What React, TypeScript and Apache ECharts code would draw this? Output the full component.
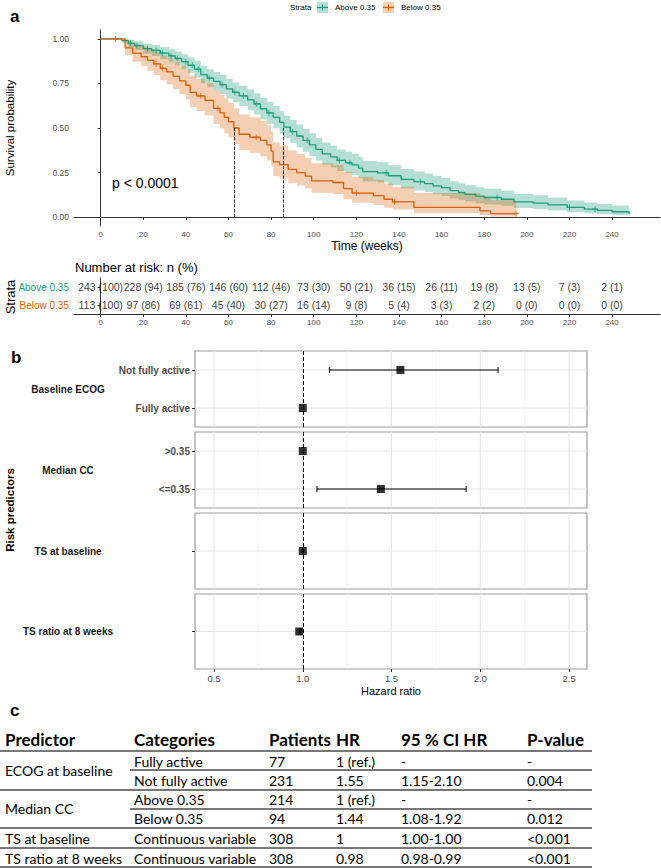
import React, { useEffect, useRef } from "react";
import * as echarts from "echarts";

const GREEN = "#1b9e77";
const ORANGE = "#d95f02";
const GREEN_FILL = "rgba(27,158,119,0.33)";
const ORANGE_FILL = "rgba(217,95,2,0.30)";
const FF = "'Liberation Sans', Arial, Helvetica, sans-serif";
const TF = "Lato, 'Open Sans', sans-serif";

const strata = ["Above 0.35", "Below 0.35"];

// Kaplan-Meier: Above 0.35
const aboveTime = [0, 10, 13, 16, 20, 24, 28, 32, 35, 38, 41, 44, 47, 50, 53, 56, 59, 62, 65, 69, 72, 75, 78, 81, 84, 86, 89, 92, 95, 98, 101, 104, 108, 111, 115, 118, 121, 123, 130, 135, 141, 147, 152, 156, 160, 164, 168, 171, 176, 180, 188, 194, 203, 210, 219, 227, 233, 240, 248];
const aboveSurv = [1, 0.99, 0.975, 0.962, 0.945, 0.935, 0.92, 0.905, 0.89, 0.872, 0.852, 0.83, 0.8, 0.78, 0.762, 0.743, 0.72, 0.7, 0.68, 0.658, 0.635, 0.608, 0.585, 0.56, 0.532, 0.505, 0.48, 0.455, 0.43, 0.405, 0.38, 0.355, 0.338, 0.318, 0.305, 0.293, 0.275, 0.255, 0.248, 0.232, 0.212, 0.199, 0.188, 0.175, 0.165, 0.148, 0.138, 0.128, 0.118, 0.11, 0.1, 0.085, 0.078, 0.068, 0.054, 0.045, 0.038, 0.03, 0.017];
const aboveLower = [1, 0.978, 0.955, 0.938, 0.917, 0.904, 0.886, 0.868, 0.851, 0.83, 0.808, 0.784, 0.752, 0.73, 0.711, 0.691, 0.666, 0.645, 0.624, 0.6, 0.576, 0.548, 0.524, 0.498, 0.47, 0.442, 0.417, 0.392, 0.367, 0.343, 0.318, 0.294, 0.278, 0.259, 0.247, 0.236, 0.219, 0.2, 0.194, 0.179, 0.161, 0.149, 0.139, 0.128, 0.119, 0.104, 0.096, 0.087, 0.078, 0.071, 0.063, 0.051, 0.045, 0.037, 0.027, 0.021, 0.016, 0.011, 0.004];
const aboveUpper = [1, 1, 0.995, 0.985, 0.973, 0.966, 0.955, 0.942, 0.93, 0.914, 0.897, 0.877, 0.849, 0.83, 0.814, 0.797, 0.775, 0.756, 0.737, 0.716, 0.694, 0.669, 0.647, 0.623, 0.596, 0.569, 0.545, 0.52, 0.495, 0.47, 0.444, 0.419, 0.401, 0.38, 0.367, 0.355, 0.336, 0.315, 0.308, 0.291, 0.27, 0.256, 0.244, 0.231, 0.22, 0.201, 0.19, 0.179, 0.168, 0.159, 0.148, 0.13, 0.122, 0.11, 0.093, 0.082, 0.074, 0.065, 0.05];
const aboveCensorTime = [14, 17, 22, 26, 29, 33, 36, 40, 43, 46, 51, 57, 63, 67, 73, 79, 90, 97, 112, 117, 134, 150, 186, 220, 232];
const aboveCensorSurv = [0.975, 0.962, 0.945, 0.935, 0.92, 0.905, 0.89, 0.872, 0.852, 0.83, 0.78, 0.743, 0.7, 0.68, 0.635, 0.585, 0.48, 0.43, 0.318, 0.305, 0.248, 0.199, 0.11, 0.054, 0.045];

// Kaplan-Meier: Below 0.35
const belowTime = [0, 11.5, 15, 19, 22, 25, 28, 31, 34, 37, 40, 42, 45, 49, 53, 56, 58, 60, 62.5, 65, 70, 75, 78, 80, 81, 84, 88, 92, 96, 99, 109, 114, 118, 128, 133, 137, 147, 178, 183, 195];
const belowSurv = [1, 0.95, 0.92, 0.9, 0.88, 0.86, 0.835, 0.815, 0.79, 0.765, 0.74, 0.7, 0.68, 0.655, 0.61, 0.585, 0.56, 0.535, 0.5, 0.465, 0.448, 0.43, 0.405, 0.37, 0.31, 0.295, 0.268, 0.25, 0.23, 0.203, 0.194, 0.16, 0.135, 0.12, 0.1, 0.085, 0.055, 0.035, 0.02, 0.02];
const belowLower = [1, 0.91, 0.872, 0.847, 0.822, 0.798, 0.768, 0.745, 0.717, 0.689, 0.661, 0.618, 0.596, 0.57, 0.523, 0.497, 0.471, 0.446, 0.41, 0.376, 0.359, 0.342, 0.318, 0.285, 0.23, 0.217, 0.192, 0.177, 0.16, 0.137, 0.13, 0.1, 0.08, 0.068, 0.053, 0.042, 0.022, 0.01, 0.003, 0.003];
const belowUpper = [1, 0.99, 0.97, 0.956, 0.942, 0.927, 0.908, 0.892, 0.871, 0.85, 0.828, 0.793, 0.775, 0.752, 0.711, 0.688, 0.666, 0.643, 0.61, 0.576, 0.56, 0.541, 0.516, 0.48, 0.418, 0.402, 0.374, 0.354, 0.332, 0.302, 0.292, 0.254, 0.226, 0.21, 0.188, 0.17, 0.135, 0.115, 0.095, 0.095];
const belowCensorTime = [7, 26, 29, 47, 55, 73, 120, 138, 195];
const belowCensorSurv = [1, 0.86, 0.835, 0.68, 0.61, 0.448, 0.135, 0.085, 0.02];

const medianTimes = [85.8, 62.6];

const timeTicks = [0, 20, 40, 60, 80, 100, 120, 140, 160, 180, 200, 220, 240];
const survTicks = [0, 0.25, 0.5, 0.75, 1];

// Number at risk
const riskTimes = [0, 20, 40, 60, 80, 100, 120, 140, 160, 180, 200, 220, 240];
const aboveN = [243, 228, 185, 146, 112, 73, 50, 36, 26, 19, 13, 7, 2];
const abovePct = [100, 94, 76, 60, 46, 30, 21, 15, 11, 8, 5, 3, 1];
const belowN = [113, 97, 69, 45, 30, 16, 9, 5, 3, 2, 0, 0, 0];
const belowPct = [100, 86, 61, 40, 27, 14, 8, 4, 3, 2, 0, 0, 0];

// Forest plot
const forestGroups = ["Baseline ECOG", "Median CC", "TS at baseline", "TS ratio at 8 weeks"];
const forestCategories = [["Fully active", "Not fully active"], ["<=0.35", ">0.35"], [""], [""]];
const forestHR = [[1, 1.55], [1.44, 1], [1], [0.98]];
const forestLow = [[null, 1.15], [1.08, null], [1.0], [0.98]];
const forestHigh = [[null, 2.1], [1.92, null], [1.0], [0.99]];
const hrTicks = [0.5, 1, 1.5, 2, 2.5];
const hrMinorBreaks = [0.75, 1.25, 1.75, 2.25];

// Table
const tableHeader = ["Predictor", "Categories", "Patients", "HR", "95 % CI HR", "P-value"];
const tablePredictors = ["ECOG at baseline", "Median CC", "TS at baseline", "TS ratio at 8 weeks"];
const tablePredictorRows = [[0, 1], [2, 3], [4], [5]];
const tableCategories = ["Fully active", "Not fully active", "Above 0.35", "Below 0.35", "Continuous variable", "Continuous variable"];
const tablePatients = ["77", "231", "214", "94", "308", "308"];
const tableHR = ["1 (ref.)", "1.55", "1 (ref.)", "1.44", "1", "0.98"];
const tableCI = ["-", "1.15-2.10", "-", "1.08-1.92", "1.00-1.00", "0.98-0.99"];
const tableP = ["-", "0.004", "-", "0.012", "<0.001", "<0.001"];

// layout
const KM = { left: 74, top: 30, width: 586, height: 196 };
const RT = { left: 74, top: 278, width: 586, height: 36 };
const FP_LEFT = 195;
const FP_WIDTH = 392;
const FP_TOPS = [351, 432, 513, 594];
const FP_HEIGHTS = [76, 76, 76, 75];
const TABLE_COLS = [5, 134, 269, 336, 401, 527];
const TABLE_HEADER_Y = 739;
const TABLE_ROW_Y = [761, 780, 799, 818, 838, 858];
const TABLE_RIGHT = 592;

function ribbonSeries(time: number[], lo: number[], hi: number[], fill: string) {
  return {
    type: "custom",
    xAxisIndex: 0,
    yAxisIndex: 0,
    silent: true,
    z: 1,
    data: time.map((t, i) => [t, lo[i], hi[i]]),
    encode: { x: 0, y: [1, 2] },
    renderItem: (params: any, api: any) => {
      if (params.dataIndex !== 0) return null;
      const n = time.length;
      const pts: number[][] = [];
      for (let i = 0; i < n; i++) {
        const tn = i < n - 1 ? time[i + 1] : time[i];
        pts.push(api.coord([time[i], hi[i]]));
        pts.push(api.coord([tn, hi[i]]));
      }
      for (let i = n - 1; i >= 0; i--) {
        const tn = i < n - 1 ? time[i + 1] : time[i];
        pts.push(api.coord([tn, lo[i]]));
        pts.push(api.coord([time[i], lo[i]]));
      }
      return { type: "polygon", shape: { points: pts }, style: { fill } };
    },
  };
}

const plusSymbol = "path://M0,5L10,5M5,0L5,10";

function buildOption() {
  const grid: any[] = [
    { ...KM, containLabel: false },
    { ...RT, containLabel: false },
  ];
  FP_TOPS.forEach((top, p) => {
    grid.push({ left: FP_LEFT, top, width: FP_WIDTH, height: FP_HEIGHTS[p], show: true, borderColor: "#9e9e9e", borderWidth: 1.2, backgroundColor: "#fff" });
  });

  const axisColor = "#333";
  const xAxis: any[] = [
    {
      gridIndex: 0, type: "value", min: -12.5, max: 262.5,
      axisLine: { show: true, lineStyle: { color: axisColor, width: 1 } },
      axisTick: { show: true, length: 3, customValues: timeTicks, lineStyle: { color: axisColor } },
      axisLabel: { customValues: timeTicks, fontSize: 8, color: "#4d4d4d", margin: 4, fontFamily: FF },
      splitLine: { show: false },
    },
    {
      gridIndex: 1, type: "value", min: -12.5, max: 262.5,
      axisLine: { show: true, lineStyle: { color: axisColor, width: 1 } },
      axisTick: { show: true, length: 3, customValues: timeTicks, lineStyle: { color: axisColor } },
      axisLabel: { customValues: timeTicks, fontSize: 8, color: "#4d4d4d", margin: 4, fontFamily: FF },
      splitLine: { show: false },
    },
  ];
  const yAxis: any[] = [
    {
      gridIndex: 0, type: "value", min: -0.05, max: 1.05,
      axisLine: { show: true, lineStyle: { color: axisColor, width: 1 } },
      axisTick: { show: true, length: 3, customValues: survTicks, lineStyle: { color: axisColor } },
      axisLabel: { customValues: survTicks, fontSize: 8.5, color: "#4d4d4d", margin: 5, fontFamily: FF, formatter: (v: number) => v.toFixed(2) },
      splitLine: { show: false },
    },
    {
      gridIndex: 1, type: "category", data: strata, inverse: true,
      axisLine: { show: true, lineStyle: { color: axisColor, width: 1 } },
      axisTick: { show: true, length: 3, alignWithLabel: true, lineStyle: { color: axisColor } },
      axisLabel: { fontSize: 10, margin: 5, fontFamily: FF, color: (v: string) => (v === strata[0] ? GREEN : ORANGE) },
      splitLine: { show: false },
    },
  ];
  FP_TOPS.forEach((_, p) => {
    const last = p === FP_TOPS.length - 1;
    xAxis.push({
      gridIndex: 2 + p, type: "value", min: 0.393, max: 2.601,
      axisLine: { show: false },
      axisTick: { show: last, length: 3, customValues: hrTicks, lineStyle: { color: axisColor } },
      axisLabel: { show: last, customValues: hrTicks, fontSize: 9.5, color: "#4d4d4d", margin: 4, fontFamily: FF, formatter: (v: number) => v.toFixed(1) },
      splitLine: { show: false },
    });
    yAxis.push({
      gridIndex: 2 + p, type: "category", data: forestCategories[p],
      axisLine: { show: false },
      axisTick: { show: true, length: 3, alignWithLabel: true, lineStyle: { color: axisColor } },
      axisLabel: { fontSize: 10, fontWeight: "bold", color: "#4d4d4d", margin: 5, fontFamily: FF },
      splitLine: { show: false },
    });
  });

  const series: any[] = [
    ribbonSeries(aboveTime, aboveLower, aboveUpper, GREEN_FILL),
    ribbonSeries(belowTime, belowLower, belowUpper, ORANGE_FILL),
    {
      type: "line", xAxisIndex: 0, yAxisIndex: 0, step: "end", showSymbol: false, symbol: "none", z: 3,
      data: aboveTime.map((t, i) => [t, aboveSurv[i]]),
      lineStyle: { color: GREEN, width: 1.3 },
      markLine: {
        silent: true, symbol: ["none", "none"], label: { show: false },
        lineStyle: { type: "dashed", color: "#000", width: 0.8 },
        data: medianTimes.map((m) => [{ coord: [m, 0] }, { coord: [m, 0.5] }]),
      },
    },
    {
      type: "line", xAxisIndex: 0, yAxisIndex: 0, step: "end", showSymbol: false, symbol: "none", z: 3,
      data: belowTime.map((t, i) => [t, belowSurv[i]]),
      lineStyle: { color: ORANGE, width: 1.3 },
    },
    {
      type: "scatter", xAxisIndex: 0, yAxisIndex: 0, symbol: plusSymbol, symbolSize: 6, z: 4,
      data: aboveCensorTime.map((t, i) => [t, aboveCensorSurv[i]]),
      itemStyle: { color: "none", borderColor: GREEN, borderWidth: 1 },
    },
    {
      type: "scatter", xAxisIndex: 0, yAxisIndex: 0, symbol: plusSymbol, symbolSize: 6, z: 4,
      data: belowCensorTime.map((t, i) => [t, belowCensorSurv[i]]),
      itemStyle: { color: "none", borderColor: ORANGE, borderWidth: 1 },
    },
    {
      type: "scatter", xAxisIndex: 1, yAxisIndex: 1, symbolSize: 1, itemStyle: { color: "rgba(0,0,0,0)" },
      data: riskTimes.map((t, i) => [t, 0, `${aboveN[i]} (${abovePct[i]})`]),
      label: { show: true, position: "inside", formatter: (p: any) => p.value[2], color: "#000", fontSize: 10.5, fontFamily: FF },
    },
    {
      type: "scatter", xAxisIndex: 1, yAxisIndex: 1, symbolSize: 1, itemStyle: { color: "rgba(0,0,0,0)" },
      data: riskTimes.map((t, i) => [t, 1, `${belowN[i]} (${belowPct[i]})`]),
      label: { show: true, position: "inside", formatter: (p: any) => p.value[2], color: "#000", fontSize: 10.5, fontFamily: FF },
    },
  ];

  FP_TOPS.forEach((_, p) => {
    const ax = 2 + p;
    const breaks = [...hrTicks, ...hrMinorBreaks];
    series.push({
      type: "custom", xAxisIndex: ax, yAxisIndex: ax, silent: true, z: 1,
      data: breaks.map((v) => [v, 0]),
      renderItem: (params: any, api: any) => {
        const v = api.value(0);
        const x = api.coord([v, 0])[0];
        const cs = params.coordSys;
        const major = hrTicks.indexOf(v) >= 0;
        return { type: "line", shape: { x1: x, y1: cs.y, x2: x, y2: cs.y + cs.height }, style: { stroke: major ? "#e6e6e6" : "#f2f2f2", lineWidth: major ? 1 : 0.7 } };
      },
    });
    series.push({
      type: "custom", xAxisIndex: ax, yAxisIndex: ax, silent: true, z: 2,
      data: forestHR[p].map((hr, i) => [hr, i]),
      renderItem: (params: any, api: any) => {
        const i = params.dataIndex;
        const cs = params.coordSys;
        const y = api.coord([1, i])[1];
        const children: any[] = [
          { type: "line", shape: { x1: cs.x, y1: y, x2: cs.x + cs.width, y2: y }, style: { stroke: "#e6e6e6", lineWidth: 1 } },
        ];
        const lo = forestLow[p][i];
        const hi = forestHigh[p][i];
        if (lo != null && hi != null) {
          const xl = api.coord([lo, i])[0];
          const xh = api.coord([hi, i])[0];
          const st = { stroke: "#000", lineWidth: 1 };
          children.push({ type: "line", shape: { x1: xl, y1: y, x2: xh, y2: y }, style: st });
          children.push({ type: "line", shape: { x1: xl, y1: y - 3, x2: xl, y2: y + 3 }, style: st });
          children.push({ type: "line", shape: { x1: xh, y1: y - 3, x2: xh, y2: y + 3 }, style: st });
        }
        return { type: "group", children };
      },
      markLine: {
        silent: true, symbol: ["none", "none"], label: { show: false },
        lineStyle: { type: "dashed", color: "#000", width: 1 },
        data: [{ xAxis: 1 }],
      },
    });
    series.push({
      type: "scatter", xAxisIndex: ax, yAxisIndex: ax, symbol: "rect", symbolSize: 8, z: 5,
      data: forestHR[p].map((hr, i) => [hr, i]),
      itemStyle: { color: "#000" },
    });
  });

  const graphic: any[] = [];
  const txt = (x: number, y: number, text: string, o: any = {}) => ({
    type: "text", x, y, rotation: o.rotation || 0, silent: true,
    style: {
      text, fill: o.fill || "#000", fontSize: o.fontSize || 10, fontWeight: o.fontWeight || "normal",
      fontFamily: o.fontFamily || FF, textAlign: o.align || "left", textVerticalAlign: "middle",
    },
  });
  // panel letters
  graphic.push(txt(10, 16, "a", { fontSize: 17, fontWeight: "bold" }));
  graphic.push(txt(11, 357, "b", { fontSize: 17, fontWeight: "bold" }));
  graphic.push(txt(10, 710, "c", { fontSize: 17, fontWeight: "bold" }));
  // legend
  graphic.push(txt(290, 7, "Strata", { fontSize: 8 }));
  [[317, GREEN, GREEN_FILL, strata[0], 335], [383, ORANGE, ORANGE_FILL, strata[1], 401]].forEach(([x, c, f, label, tx]: any) => {
    graphic.push({ type: "rect", shape: { x, y: 2, width: 11, height: 11 }, style: { fill: f }, silent: true });
    graphic.push({ type: "line", shape: { x1: x, y1: 7.5, x2: x + 11, y2: 7.5 }, style: { stroke: c, lineWidth: 1.3 }, silent: true });
    graphic.push({ type: "line", shape: { x1: x + 5.5, y1: 4.5, x2: x + 5.5, y2: 10.5 }, style: { stroke: c, lineWidth: 1 }, silent: true });
    graphic.push(txt(tx, 7.5, label, { fontSize: 8 }));
  });
  // KM titles
  graphic.push(txt(10, 128, "Survival probability", { fontSize: 11.5, align: "center", rotation: Math.PI / 2 }));
  graphic.push(txt(112, 183, "p < 0.0001", { fontSize: 14 }));
  graphic.push(txt(KM.left + KM.width / 2, 246, "Time (weeks)", { fontSize: 12, align: "center" }));
  graphic.push(txt(75, 267, "Number at risk: n (%)", { fontSize: 13 }));
  graphic.push(txt(10, 297, "Strata", { fontSize: 13, align: "center", rotation: Math.PI / 2 }));
  // forest titles
  FP_TOPS.forEach((top, p) => {
    graphic.push(txt(68, top + FP_HEIGHTS[p] / 2, forestGroups[p], { fontSize: 10, fontWeight: "bold", align: "center", fill: "#1a1a1a" }));
  });
  graphic.push(txt(10, 510, "Risk predictors", { fontSize: 11.5, fontWeight: "bold", align: "center", rotation: Math.PI / 2 }));
  graphic.push(txt(FP_LEFT + FP_WIDTH / 2, 691, "Hazard ratio", { fontSize: 11, align: "center" }));

  // table
  tableHeader.forEach((h, c) => {
    graphic.push(txt(TABLE_COLS[c], TABLE_HEADER_Y, h, { fontSize: 17, fontWeight: "bold", fontFamily: TF }));
  });
  const cols = [tableCategories, tablePatients, tableHR, tableCI, tableP];
  TABLE_ROW_Y.forEach((y, r) => {
    cols.forEach((col, c) => {
      graphic.push(txt(TABLE_COLS[c + 1], y, col[r], { fontSize: 14, fontFamily: TF }));
    });
  });
  tablePredictors.forEach((name, k) => {
    const rows = tablePredictorRows[k];
    const y = (TABLE_ROW_Y[rows[0]] + TABLE_ROW_Y[rows[rows.length - 1]]) / 2;
    graphic.push(txt(TABLE_COLS[0], y, name, { fontSize: 14, fontFamily: TF }));
  });
  const hline = (x1: number, y: number) => ({ type: "line", silent: true, shape: { x1, y1: y, x2: TABLE_RIGHT, y2: y }, style: { stroke: "#4a4a4a", lineWidth: 1.5 } });
  graphic.push(hline(0, 751));
  graphic.push(hline(130, 770));
  graphic.push(hline(0, 790));
  graphic.push(hline(130, 809));
  graphic.push(hline(0, 828));
  graphic.push(hline(0, 848));
  graphic.push(hline(0, 867));

  return { animation: false, backgroundColor: "#fff", grid, xAxis, yAxis, series, graphic };
}

export default function App() {
  const ref = useRef<HTMLDivElement>(null);
  useEffect(() => {
    if (!ref.current) return;
    const chart = echarts.init(ref.current, undefined, { renderer: "svg" });
    chart.setOption(buildOption() as any);
    return () => chart.dispose();
  }, []);
  return <div ref={ref} style={{ position: "absolute", left: 0, top: 0, width: 661, height: 868 }} />;
}
